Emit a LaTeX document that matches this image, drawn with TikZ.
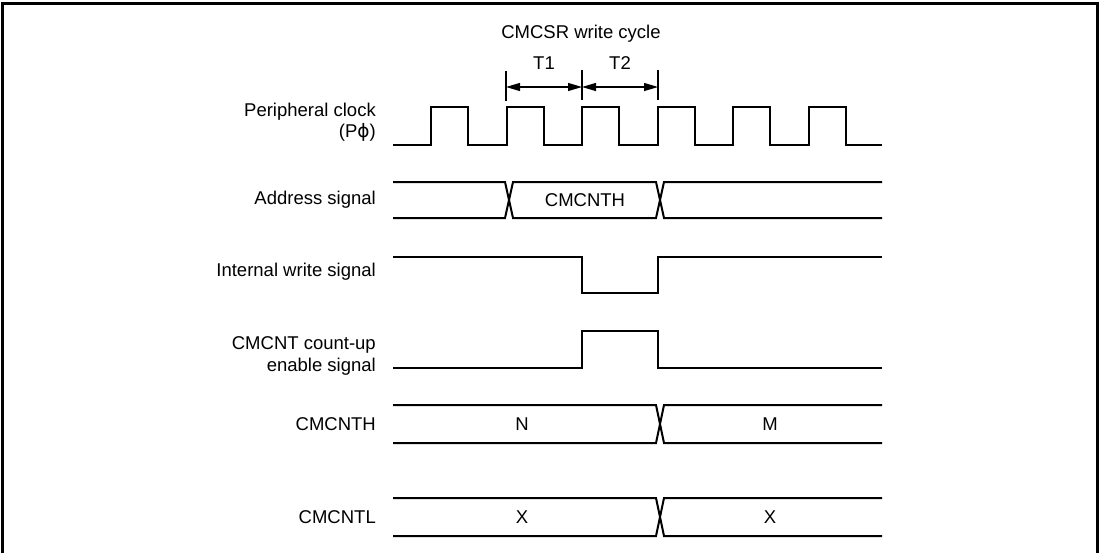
\documentclass[tikz,border=0pt]{standalone}
\usepackage{fontspec}
\setmainfont{Liberation Sans}
\newfontfamily\symfont{DejaVu Sans}
\usetikzlibrary{arrows.meta,positioning}
\newcommand\sigfont{\fontsize{18.5}{21.5}\selectfont}
\tikzset{
  wave/.style={line width=2pt,line join=miter},
  tickln/.style={line width=1.1pt},
  dimarr/.style={{Triangle[length=14pt,width=8pt]}-{Triangle[length=14pt,width=8pt]},line width=1.1pt},
  siglbl/.style={anchor=east,align=right,font=\sigfont,inner sep=0pt},
  buslbl/.style={font=\sigfont,inner sep=0pt},
  frm/.style={line width=3pt}
}

\begin{document}
\begin{tikzpicture}[x=1pt,y=-1pt]
  \useasboundingbox (0,0) rectangle (1100,552);
  \draw[frm] (2,556) -- (2,3) -- (1097,3) -- (1097,556);

  % write cycle
  \node[buslbl] (cyc) at (581,34) {CMCSR write cycle};
  \coordinate (a0) at (506,87);
  \coordinate (a1) at (582,87);
  \coordinate (a2) at (658,87);
  \draw[tickln] (506,71) -- (506,101);
  \draw[tickln] (582,70) -- (582,100);
  \draw[tickln] (658,70) -- (658,100);
  \draw[dimarr] (a0) -- (a1);
  \draw[dimarr] (a1) -- (a2);
  \node[buslbl] (t1) at (544,63) {T1};
  \node[buslbl] (t2) at (620,63) {T2};

  % signal names
  \node[siglbl] (lclk) at (376,122) {Peripheral clock\\(P{\symfont ϕ})};
  \node[siglbl] (ladr) at (376,200) {Address signal};
  \node[siglbl] (lwr) at (376,272) {Internal write signal};
  \node[siglbl] (len) at (376,356) {CMCNT count-up\\enable signal};
  \node[siglbl] (lcnth) at (376,424) {CMCNTH};
  \node[siglbl] (lcntl) at (376,517) {CMCNTL};

  % peripheral clock
  \draw[wave] (393,145) foreach \k in {0,...,5} {
    -- ({431+75.6*\k},145) -- ({431+75.6*\k},107)
    -- ({468+75.6*\k},107) -- ({468+75.6*\k},145) } -- (882,145);

  % address signal
  \draw[wave] (393,182) -- (505,182) -- (513,218) -- (656,218) -- (664,182) -- (882,182);
  \draw[wave] (393,218) -- (505,218) -- (513,182) -- (656,182) -- (664,218) -- (882,218);
  \node[buslbl] (vadr) at (585,200) {CMCNTH};

  % internal write
  \draw[wave] (393,257) -- (582,257) -- (582,293) -- (658,293) -- (658,257) -- (882,257);

  % count-up enable
  \draw[wave] (393,368) -- (582,368) -- (582,331) -- (658,331) -- (658,368) -- (882,368);

  % CMCNTH
  \draw[wave] (393,405) -- (656,405) -- (664,443) -- (882,443);
  \draw[wave] (393,443) -- (656,443) -- (664,405) -- (882,405);
  \node[buslbl] (vn) at (522,424) {N};
  \node[buslbl] (vm) at (770,424) {M};

  % CMCNTL
  \draw[wave] (393,498) -- (656,498) -- (664,536) -- (882,536);
  \draw[wave] (393,536) -- (656,536) -- (664,498) -- (882,498);
  \node[buslbl] (vx1) at (522,517) {X};
  \node[buslbl] (vx2) at (770,517) {X};
\end{tikzpicture}
\end{document}
